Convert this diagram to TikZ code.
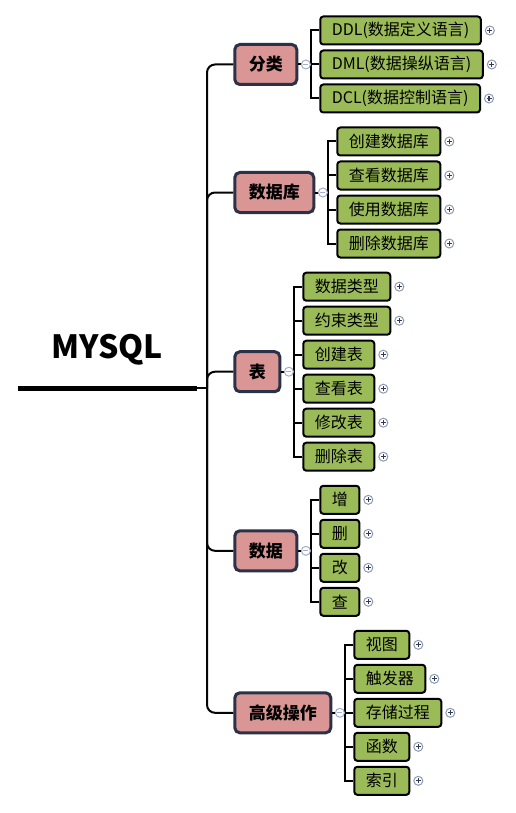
\documentclass[tikz,border=0pt]{standalone}
\usepackage{fontspec}
\newfontfamily\cjk{Noto Sans CJK SC}
\usetikzlibrary{positioning,calc}
\definecolor{topicc}{HTML}{D99694}
\definecolor{topicb}{HTML}{2B3147}
\definecolor{leafc}{HTML}{9BBB59}
\definecolor{foldc}{HTML}{A3AECB}
\definecolor{moreb}{HTML}{8E98B0}
\definecolor{morec}{HTML}{2E3A59}

\begin{document}
\begin{tikzpicture}[x=1pt, y=-1pt,
	topic/.style={rectangle, rounded corners=5pt, draw=topicb, line width=3pt, fill=topicc,
		minimum height=40pt, inner xsep=14pt, inner ysep=0pt, font=\cjk\bfseries\fontsize{17}{20}\selectfont},
	leaf/.style={rectangle, rounded corners=3pt, draw, line width=2pt, fill=leafc,
		minimum height=28pt, inner xsep=11.5pt, inner ysep=0pt, font=\cjk\fontsize{16}{19}\selectfont},
	fold/.style={circle, draw=foldc, fill=white, line width=1pt, minimum size=9pt, inner sep=0pt,
		path picture={\draw[foldc, line width=1.2pt] ([xshift=2pt]path picture bounding box.west) -- ([xshift=-2pt]path picture bounding box.east);}},
	more/.style={circle, draw=moreb, fill=white, line width=1pt, minimum size=9pt, inner sep=0pt,
		path picture={\draw[morec, line width=1.2pt] ([xshift=2pt]path picture bounding box.west) -- ([xshift=-2pt]path picture bounding box.east)
			([yshift=-2pt]path picture bounding box.north) -- ([yshift=2pt]path picture bounding box.south);}},
	branch/.style={draw=black!90!topicb, line width=2pt, rounded corners=8pt},
	stem/.style={draw, line width=2pt},]
	 \useasboundingbox (0,0) rectangle (516,813);

	 % root
	 \node[font=\cjk\bfseries\fontsize{32}{36}\selectfont] (root) at (107,350) {MYSQL};
	 \coordinate (rootw) at (18,388);
	 \coordinate (roote) at (197,388);
	 \coordinate (hub) at (207,388);
	 \draw[line width=5pt] (rootw) -- (roote);
	 \draw[branch] (roote) -- (hub);

	 % main topics
	 \node[topic, anchor=west] (class) at (233.3,64.5) {分类};
	 \node[topic, anchor=west] (db) at (233.3,192.5) {数据库};
	 \node[topic, anchor=west] (table) at (233.3,371.7) {表};
	 \node[topic, anchor=west] (data) at (233.3,550.8) {数据};
	 \node[topic, anchor=west] (adv) at (233.3,712.8) {高级操作};

	 \draw[branch] (hub) |- (class.west);
	 \draw[branch] (hub) |- (db.west);
	 \draw[branch] (hub) |- (table.west);
	 \draw[branch] (hub) |- (data.west);
	 \draw[branch] (hub) |- (adv.west);

	 % 分类
	 \node[leaf, right=21pt of class, yshift=34pt] (ddl) {DDL(数据定义语言)};
	 \node[leaf, below=4pt of ddl.south west, anchor=north west] (dml) {DML(数据操纵语言)};
	 \node[leaf, below=4pt of dml.south west, anchor=north west] (dcl) {DCL(数据控制语言)};

	 % 数据库
	 \node[leaf, right=21pt of db, yshift=51pt] (dbcreate) {创建数据库};
	 \node[leaf, below=4pt of dbcreate.south west, anchor=north west] (dbshow) {查看数据库};
	 \node[leaf, below=4pt of dbshow.south west, anchor=north west] (dbuse) {使用数据库};
	 \node[leaf, below=4pt of dbuse.south west, anchor=north west] (dbdrop) {删除数据库};

	 % 表
	 \node[leaf, right=21pt of table, yshift=85pt] (tbtype) {数据类型};
	 \node[leaf, below=4pt of tbtype.south west, anchor=north west] (tbcons) {约束类型};
	 \node[leaf, below=4pt of tbcons.south west, anchor=north west] (tbcreate) {创建表};
	 \node[leaf, below=4pt of tbcreate.south west, anchor=north west] (tbshow) {查看表};
	 \node[leaf, below=4pt of tbshow.south west, anchor=north west] (tbalter) {修改表};
	 \node[leaf, below=4pt of tbalter.south west, anchor=north west] (tbdrop) {删除表};

	 % 数据
	 \node[leaf, right=21pt of data, yshift=51pt] (dadd) {增};
	 \node[leaf, below=4pt of dadd.south west, anchor=north west] (ddel) {删};
	 \node[leaf, below=4pt of ddel.south west, anchor=north west] (dmod) {改};
	 \node[leaf, below=4pt of dmod.south west, anchor=north west] (dqry) {查};

	 % 高级操作
	 \node[leaf, right=21pt of adv, yshift=68pt] (view) {视图};
	 \node[leaf, below=4pt of view.south west, anchor=north west] (trig) {触发器};
	 \node[leaf, below=4pt of trig.south west, anchor=north west] (proc) {存储过程};
	 \node[leaf, below=4pt of proc.south west, anchor=north west] (func) {函数};
	 \node[leaf, below=4pt of func.south west, anchor=north west] (idx) {索引};

	 % brackets
	 \coordinate (class-b) at ($(class.east)+(12.5,0)$);
	 \coordinate (db-b) at ($(db.east)+(12.5,0)$);
	 \coordinate (table-b) at ($(table.east)+(12.5,0)$);
	 \coordinate (data-b) at ($(data.east)+(12.5,0)$);
	 \coordinate (adv-b) at ($(adv.east)+(12.5,0)$);

	 \draw[stem] (ddl.west) -| (class-b) |- (dcl.west);
	 \draw[stem] (dml.west) -- (dml.west -| class-b);
	 \draw[stem] (dbcreate.west) -| (db-b) |- (dbdrop.west);
	 \draw[stem] (dbshow.west) -- (dbshow.west -| db-b);
	 \draw[stem] (dbuse.west) -- (dbuse.west -| db-b);
	 \draw[stem] (tbtype.west) -| (table-b) |- (tbdrop.west);
	 \draw[stem] (tbcons.west) -- (tbcons.west -| table-b);
	 \draw[stem] (tbcreate.west) -- (tbcreate.west -| table-b);
	 \draw[stem] (tbshow.west) -- (tbshow.west -| table-b);
	 \draw[stem] (tbalter.west) -- (tbalter.west -| table-b);
	 \draw[stem] (dadd.west) -| (data-b) |- (dqry.west);
	 \draw[stem] (ddel.west) -- (ddel.west -| data-b);
	 \draw[stem] (dmod.west) -- (dmod.west -| data-b);
	 \draw[stem] (view.west) -| (adv-b) |- (idx.west);
	 \draw[stem] (trig.west) -- (trig.west -| adv-b);
	 \draw[stem] (proc.west) -- (proc.west -| adv-b);
	 \draw[stem] (func.west) -- (func.west -| adv-b);

	 % fold buttons
	 \draw[stem] (class.east) -- (class-b);
	 \draw[stem] (db.east) -- (db-b);
	 \draw[stem] (table.east) -- (table-b);
	 \draw[stem] (data.east) -- (data-b);
	 \draw[stem] (adv.east) -- (adv-b);
	 \node[fold, right=2.6pt of class] (class-f) {};
	 \node[fold, right=2.6pt of db] (db-f) {};
	 \node[fold, right=2.6pt of table] (table-f) {};
	 \node[fold, right=2.6pt of data] (data-f) {};
	 \node[fold, right=2.6pt of adv] (adv-f) {};

	 % expand buttons
	 \node[more, right=3pt of ddl] (ddl-m) {};
	 \node[more, right=3pt of dml] (dml-m) {};
	 \node[more, right=3pt of dcl] (dcl-m) {};
	 \node[more, right=3pt of dbcreate] (dbcreate-m) {};
	 \node[more, right=3pt of dbshow] (dbshow-m) {};
	 \node[more, right=3pt of dbuse] (dbuse-m) {};
	 \node[more, right=3pt of dbdrop] (dbdrop-m) {};
	 \node[more, right=3pt of tbtype] (tbtype-m) {};
	 \node[more, right=3pt of tbcons] (tbcons-m) {};
	 \node[more, right=3pt of tbcreate] (tbcreate-m) {};
	 \node[more, right=3pt of tbshow] (tbshow-m) {};
	 \node[more, right=3pt of tbalter] (tbalter-m) {};
	 \node[more, right=3pt of tbdrop] (tbdrop-m) {};
	 \node[more, right=3pt of dadd] (dadd-m) {};
	 \node[more, right=3pt of ddel] (ddel-m) {};
	 \node[more, right=3pt of dmod] (dmod-m) {};
	 \node[more, right=3pt of dqry] (dqry-m) {};
	 \node[more, right=3pt of view] (view-m) {};
	 \node[more, right=3pt of trig] (trig-m) {};
	 \node[more, right=3pt of proc] (proc-m) {};
	 \node[more, right=3pt of func] (func-m) {};
	 \node[more, right=3pt of idx] (idx-m) {};

\end{tikzpicture}
\end{document}
